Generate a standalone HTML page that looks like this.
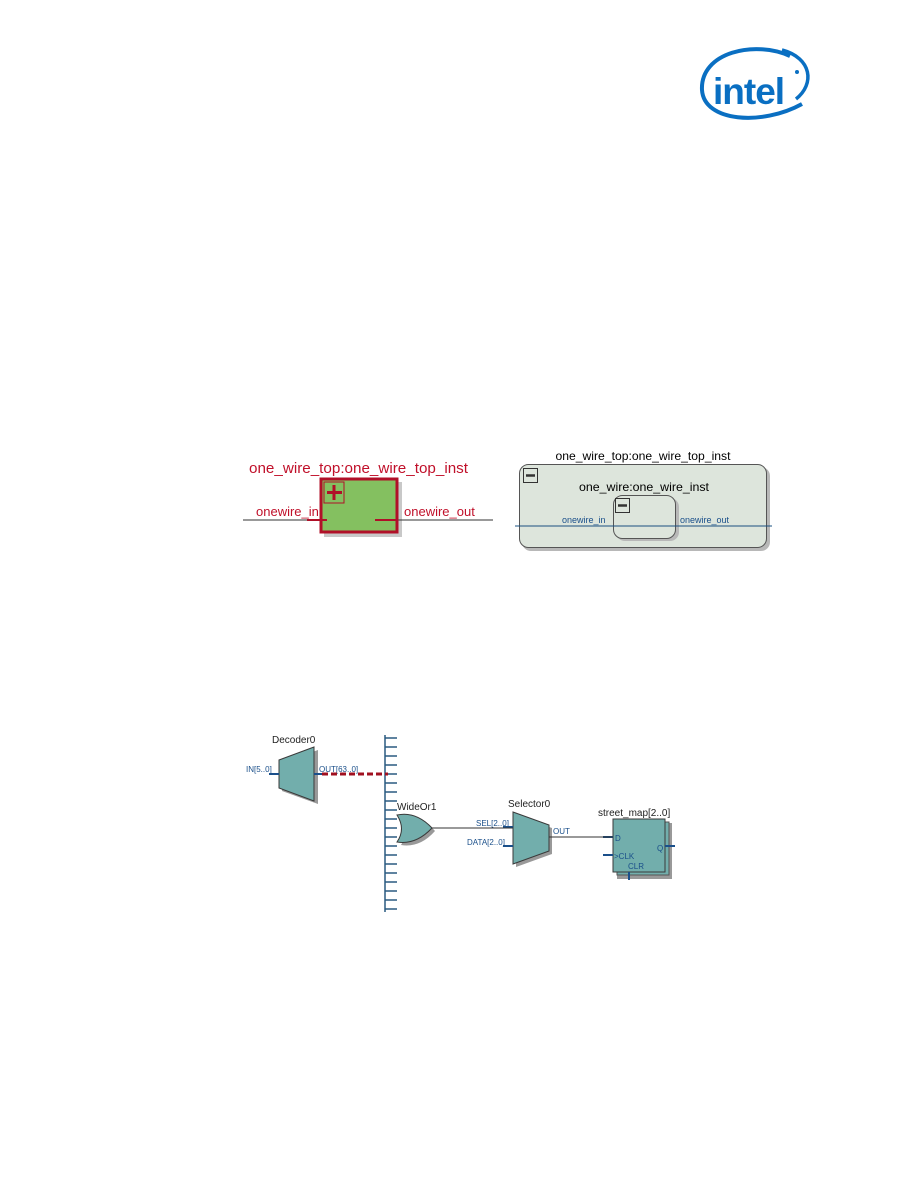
<!DOCTYPE html>
<html><head><style>body{margin:0;background:#fff}svg{display:block}</style></head><body>
<svg width="918" height="1188" xmlns="http://www.w3.org/2000/svg" font-family="Liberation Sans, sans-serif">
<!-- intel logo -->
<g fill="none" stroke="#0a6fc2">
<path d="M790,56 C755,40 700,52 702,90 C704,122 762,126 802,104" stroke-width="4"/>
<path d="M782,50 C812,58 815,84 796,99" stroke-width="3.5"/>
</g>
<text x="713" y="104" font-size="37" font-weight="bold" fill="#0a6fc2" letter-spacing="-1">intel</text>
<circle cx="797" cy="72" r="2" fill="#0a6fc2"/>

<!-- left diagram -->
<text x="249" y="473" font-size="15" fill="#c0102a" textLength="219" lengthAdjust="spacingAndGlyphs">one_wire_top:one_wire_top_inst</text>
<rect x="324" y="482" width="78" height="55" fill="#c8c8c8"/>
<line x1="243" y1="520" x2="493" y2="520" stroke="#333" stroke-width="1"/>
<rect x="321" y="479" width="76" height="53" fill="#84c060" stroke="#b01028" stroke-width="3"/>
<rect x="324" y="482" width="20" height="21" fill="none" stroke="#b01028" stroke-width="1"/>
<path d="M334,485v15M327,492.5h15" stroke="#b01028" stroke-width="3"/>
<path d="M307,520h20M375,520h22" stroke="#b01028" stroke-width="2"/>
<text x="256" y="516" font-size="13" fill="#c0102a">onewire_in</text>
<text x="404" y="516" font-size="13" fill="#c0102a">onewire_out</text>

<!-- right diagram -->
<text x="643" y="460" font-size="12" text-anchor="middle" fill="#000" textLength="175" lengthAdjust="spacingAndGlyphs">one_wire_top:one_wire_top_inst</text>
<rect x="522" y="467" width="248" height="84" rx="9" fill="#b8b8b8"/>
<rect x="519.5" y="464.5" width="247" height="83" rx="9" fill="#dde5dc" stroke="#555" stroke-width="1"/>
<rect x="523.5" y="468.5" width="14" height="14" fill="none" stroke="#333"/>
<path d="M526,475.5h9" stroke="#333" stroke-width="2.5"/>
<text x="644" y="491" font-size="12" text-anchor="middle" fill="#000" textLength="130" lengthAdjust="spacingAndGlyphs">one_wire:one_wire_inst</text>
<rect x="616" y="498" width="63" height="43" rx="9" fill="#b8b8b8"/>
<rect x="613.5" y="495.5" width="62" height="43" rx="9" fill="#dde5dc" stroke="#555"/>
<rect x="615.5" y="498.5" width="14" height="14" fill="none" stroke="#333"/>
<path d="M618,505.5h9" stroke="#333" stroke-width="2.5"/>
<line x1="515" y1="526" x2="772" y2="526" stroke="#1a5080" stroke-width="1"/>
<text x="562" y="523" font-size="9" fill="#1a4f8a">onewire_in</text>
<text x="680" y="523" font-size="9" fill="#1a4f8a">onewire_out</text>

<!-- bottom diagram -->
<g stroke="#2a5a80" stroke-width="1.5">
<line x1="385" y1="735" x2="385" y2="912"/>
<path d="M385,738h12M385,747h12M385,756h12M385,765h12M385,774h12M385,783h12M385,792h12M385,801h12M385,810h12M385,819h12M385,828h12M385,837h12M385,846h12M385,855h12M385,864h12M385,873h12M385,882h12M385,891h12M385,900h12M385,909h12"/>
</g>
<g fill="#72aeac" stroke="#3a3a3a" stroke-width="1">
<polygon points="282,763 318,750 318,804 282,791" fill="#999" stroke="none"/>
<polygon points="279,760 314,747 314,801 279,788"/>
<path d="M401,818 Q420,814 435,831 Q420,848 401,845 Q410,832 401,818Z" fill="#999" stroke="none"/>
<path d="M397,815 Q416,811 432,828 Q416,845 397,842 Q406,829 397,815Z"/>
<polygon points="516,815 552,828 552,854 516,867" fill="#999" stroke="none"/>
<polygon points="513,812 549,825 549,851 513,864"/>
<rect x="617" y="823" width="55" height="56" fill="#999" stroke="none"/>
<rect x="617" y="822" width="52" height="53" fill="#72aeac" stroke="#555"/>
<rect x="613" y="819" width="52" height="53"/>
</g>
<text x="272" y="743" font-size="10" fill="#222">Decoder0</text>
<text x="246" y="772" font-size="8" fill="#1a4f8a">IN[5..0]</text>
<text x="319" y="772" font-size="8" fill="#1a4f8a">OUT[63..0]</text>
<path d="M269,774h10M314,774h8M503,827h10M503,846h10M603,837h10M603,855h10M665,846h10M629,872v8" stroke="#1a4f8a" stroke-width="2"/>
<line x1="322" y1="774" x2="388" y2="774" stroke="#a01020" stroke-width="3" stroke-dasharray="6,3"/>
<text x="397" y="810" font-size="10" fill="#222">WideOr1</text>
<line x1="432" y1="828" x2="513" y2="828" stroke="#333"/>
<text x="508" y="807" font-size="10" fill="#222">Selector0</text>
<text x="476" y="826" font-size="8" fill="#1a4f8a">SEL[2..0]</text>
<text x="467" y="845" font-size="8" fill="#1a4f8a">DATA[2..0]</text>
<text x="553" y="834" font-size="8" fill="#1a4f8a">OUT</text>
<line x1="549" y1="837" x2="613" y2="837" stroke="#333"/>
<text x="598" y="816" font-size="10" fill="#222">street_map[2..0]</text>
<text x="615" y="841" font-size="8" fill="#1a4f8a">D</text>
<text x="614" y="859" font-size="8" fill="#1a4f8a">&gt;CLK</text>
<text x="628" y="869" font-size="8" fill="#1a4f8a">CLR</text>
<text x="657" y="851" font-size="8" fill="#1a4f8a">Q</text>
</svg>
</body></html>
